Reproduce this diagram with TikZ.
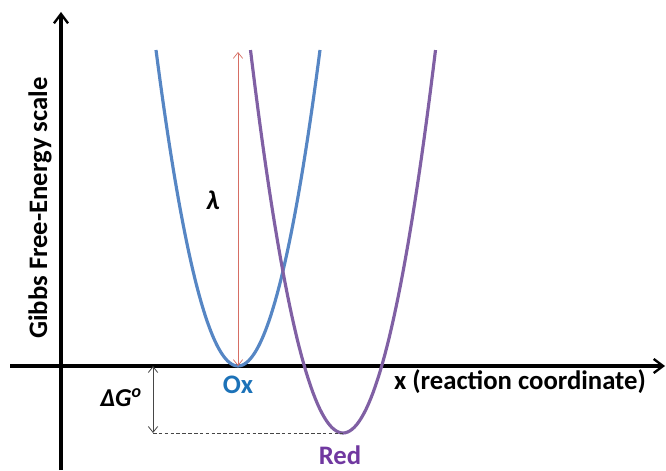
\documentclass[tikz,border=0pt]{standalone}
\usepackage{fontspec}
\setmainfont{Carlito}
\usetikzlibrary{arrows.meta}
\definecolor{oxblue}{RGB}{86,134,196}
\definecolor{oxtext}{RGB}{28,114,184}
\definecolor{redpurple}{RGB}{128,96,164}
\definecolor{redtext}{RGB}{112,56,160}
\definecolor{lamred}{RGB}{214,110,100}
\definecolor{darkgray}{RGB}{70,70,70}

\begin{document}
\begin{tikzpicture}[x=0.03cm, y=0.03cm]
\tikzset{
  axisline/.style={line width=2.7pt, black, -{Straight Barb[length=8pt, width=12pt, line width=2pt]}},
  oxcurve/.style={line width=2.7pt, oxblue},
  redcurve/.style={line width=2.7pt, redpurple},
  lamarrow/.style={line width=0.6pt, lamred, {Straight Barb[length=5pt, width=8pt]}-{Straight Barb[length=5pt, width=8pt]}},
  dgarrow/.style={line width=0.7pt, darkgray, {Straight Barb[length=5pt, width=8pt]}-{Straight Barb[length=5pt, width=8pt]}},
  dashline/.style={line width=0.7pt, darkgray, dash pattern=on 3pt off 2pt},
  lbl/.style={font=\fontsize{22.8}{24}\selectfont\bfseries, inner sep=0pt}
}
\useasboundingbox (0,0) rectangle (666,470);
% axes
\coordinate (ybot) at (61,0);
\coordinate (ytip) at (61,458);
\coordinate (xleft) at (10,104);
\coordinate (xtip) at (665,104);
\draw[axisline] (ybot) -- (ytip);
\draw[axisline] (xleft) -- (xtip);
% free-energy parabolas
\draw[oxcurve] plot[domain=-82:82, samples=81] ({238+\x},{104+0.047*\x*\x});
\draw[redcurve] plot[domain=-92.5:92.5, samples=81] ({343+\x},{37+0.04476*\x*\x});
% reorganisation energy and driving force
\coordinate (oxmin) at (238,104);
\coordinate (lamtop) at (238,418);
\coordinate (dgtop) at (153,104);
\coordinate (dgbot) at (153,37);
\coordinate (redmin) at (343,37);
\draw[lamarrow] (oxmin) -- (lamtop);
\draw[dgarrow] (dgtop) -- (dgbot);
\draw[dashline] (dgbot) -- (redmin);
% labels
\node[lbl, text=oxtext] (oxlbl) at (238,85) {Ox};
\node[lbl, text=redtext] (redlbl) at (340,15) {Red};
\node[lbl] (xlbl) at (520,88) {x (reaction coordinate)};
\node[lbl, rotate=90] (ylbl) at (40,262) {Gibbs Free-Energy scale};
\node[lbl, font=\fontsize{23}{24}\selectfont\bfseries\itshape] (lamlbl) at (213,270) {λ};
\node[lbl, font=\fontsize{22}{24}\selectfont\bfseries\itshape] (dglbl) at (121,72) {ΔG\textsuperscript{o}};
\end{tikzpicture}
\end{document}
